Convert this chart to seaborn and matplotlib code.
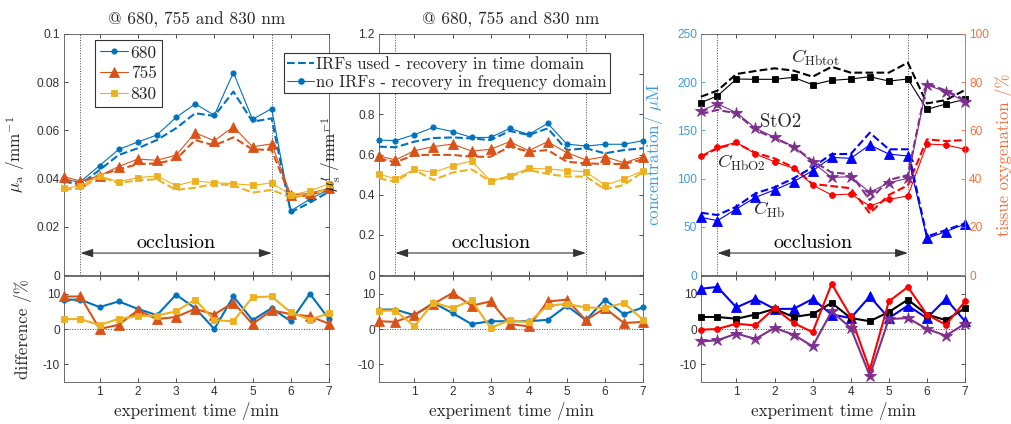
import matplotlib
matplotlib.use("Agg")
import matplotlib.pyplot as plt
import seaborn as sns
from matplotlib.lines import Line2D

# ---------------- data ----------------
t = [0.07, 0.5, 1.0, 1.5, 2.0, 2.5, 3.0, 3.5, 4.0, 4.5, 5.0, 5.5, 6.0, 6.5, 7.0]
xticks = [1, 2, 3, 4, 5, 6, 7]
occl_start, occl_end = 0.5, 5.5

wavelengths = ["680", "755", "830"]

# absorption (frequency domain = solid, time domain = dashed)
mua_680_fd = [0.0394, 0.0387, 0.0454, 0.0521, 0.0552, 0.0581, 0.0654, 0.0710, 0.0663, 0.0840, 0.0646, 0.0690, 0.0266, 0.0315, 0.0355]
mua_680_td = [0.0387, 0.0376, 0.0436, 0.0498, 0.0526, 0.0560, 0.0609, 0.0671, 0.0660, 0.0761, 0.0636, 0.0650, 0.0260, 0.0300, 0.0346]
mua_755_fd = [0.0408, 0.0390, 0.0412, 0.0450, 0.0481, 0.0476, 0.0497, 0.0590, 0.0557, 0.0615, 0.0532, 0.0544, 0.0332, 0.0339, 0.0360]
mua_755_td = [0.0397, 0.0383, 0.0415, 0.0438, 0.0460, 0.0463, 0.0480, 0.0560, 0.0538, 0.0571, 0.0521, 0.0519, 0.0321, 0.0332, 0.0355]
mua_830_fd = [0.0360, 0.0369, 0.0411, 0.0387, 0.0404, 0.0411, 0.0371, 0.0390, 0.0383, 0.0379, 0.0372, 0.0382, 0.0332, 0.0349, 0.0378]
mua_830_td = [0.0355, 0.0358, 0.0410, 0.0380, 0.0394, 0.0397, 0.0353, 0.0362, 0.0378, 0.0372, 0.0342, 0.0353, 0.0322, 0.0332, 0.0360]

# reduced scattering
mus_680_fd = [0.672, 0.669, 0.699, 0.735, 0.714, 0.685, 0.685, 0.730, 0.700, 0.755, 0.652, 0.642, 0.651, 0.651, 0.669]
mus_680_td = [0.639, 0.636, 0.664, 0.682, 0.685, 0.680, 0.672, 0.717, 0.697, 0.730, 0.622, 0.631, 0.606, 0.622, 0.631]
mus_755_fd = [0.593, 0.573, 0.619, 0.639, 0.652, 0.617, 0.626, 0.664, 0.619, 0.664, 0.609, 0.573, 0.589, 0.559, 0.589]
mus_755_td = [0.581, 0.561, 0.598, 0.598, 0.598, 0.589, 0.589, 0.639, 0.614, 0.622, 0.564, 0.556, 0.553, 0.553, 0.576]
mus_830_fd = [0.503, 0.478, 0.526, 0.511, 0.544, 0.568, 0.468, 0.495, 0.531, 0.528, 0.520, 0.514, 0.448, 0.478, 0.520]
mus_830_td = [0.481, 0.465, 0.523, 0.473, 0.510, 0.526, 0.465, 0.490, 0.523, 0.503, 0.490, 0.490, 0.427, 0.448, 0.514]

# haemoglobin concentrations (uM) and tissue oxygenation (%)
hbtot_fd = [178.8, 185.7, 203.3, 203.0, 203.0, 205.0, 197.4, 201.9, 203.3, 205.7, 201.2, 203.3, 171.8, 177.4, 182.2]
hbtot_td = [185.0, 191.2, 208.5, 211.6, 214.4, 212.0, 205.7, 216.0, 209.9, 209.9, 209.9, 220.3, 178.0, 181.5, 191.9]
hb_fd = [59.8, 56.4, 68.5, 80.6, 88.2, 96.8, 108.2, 122.0, 121.0, 134.9, 125.5, 123.4, 38.0, 45.0, 52.9]
hb_td = [64.6, 62.2, 70.9, 84.7, 91.0, 100.3, 111.7, 125.5, 125.5, 147.6, 130.4, 130.4, 39.8, 46.7, 53.6]
hbo2_fd = [123.4, 132.5, 137.6, 125.5, 117.5, 110.7, 93.4, 83.0, 84.0, 71.6, 78.5, 82.0, 135.9, 134.9, 130.4]
hbo2_td = [122.5, 131.4, 136.6, 126.8, 121.0, 111.7, 94.4, 92.3, 90.0, 64.0, 83.0, 93.0, 140.7, 139.0, 140.0]
sto2_fd = [68.2, 71.0, 67.4, 60.9, 57.1, 53.3, 46.7, 40.5, 40.8, 34.3, 38.3, 40.1, 78.8, 76.1, 71.9]
sto2_td = [66.8, 68.5, 67.1, 60.2, 56.7, 53.3, 47.4, 42.5, 41.9, 31.1, 39.4, 41.5, 79.5, 76.5, 72.6]

# differences (%)
dmua_680 = [8.3, 8.3, 6.2, 7.8, 5.7, 3.9, 9.7, 5.9, 0.0, 9.2, 2.5, 5.9, 2.2, 10.0, 2.8]
dmua_755 = [9.2, 9.2, 0.0, 1.2, 5.3, 2.8, 3.4, 5.7, 4.1, 7.5, 1.4, 5.3, 4.2, 3.6, 1.5]
dmua_830 = [2.8, 2.8, 1.1, 2.9, 3.6, 3.8, 5.0, 8.3, 2.5, 2.2, 9.0, 9.2, 4.7, 2.6, 4.5]

dmus_680 = [5.5, 5.5, 3.9, 7.4, 4.5, 1.4, 2.2, 2.2, 2.2, 2.6, 6.6, 2.5, 8.3, 4.2, 6.1]
dmus_755 = [2.2, 2.0, 4.1, 7.1, 10.2, 6.6, 7.8, 1.4, 0.75, 7.8, 8.3, 2.5, 5.9, 1.7, 2.0]
dmus_830 = [5.2, 5.2, 0.75, 7.5, 5.9, 8.1, 0.3, 2.5, 1.9, 6.6, 7.1, 6.1, 5.9, 7.4, 2.6]

dhb = [11.4, 11.9, 6.1, 8.5, 5.7, 5.7, 8.5, 4.1, 3.1, 9.2, 3.1, 6.6, 3.1, 8.5, 2.2]
dhbtot = [3.4, 3.4, 2.9, 4.1, 5.7, 3.4, 4.2, 7.4, 3.1, 2.2, 4.8, 8.3, 4.1, 2.5, 5.9]
dhbo2 = [-0.2, 0.0, 1.5, 1.0, 5.9, 1.7, -0.9, 12.8, 3.6, -11.5, 7.8, 11.9, 4.1, 1.2, 7.8]
dsto2 = [-3.5, -3.2, -1.3, -2.8, 0.3, -1.6, -4.9, 5.0, 0.3, -13.2, 2.8, 3.1, 0.0, -1.9, 1.5]

# ---------------- style ----------------
sns.set_style("ticks")
plt.rcParams.update({
    "font.family": ["Liberation Sans", "DejaVu Sans"],
    "mathtext.fontset": "cm",
    "axes.unicode_minus": False,
})
SERIF = ["cmr10", "DejaVu Serif"]
TICKC = "#333333"
SPINEC = "#555555"
C680, C755, C830 = "#0072BD", "#D95319", "#EDB120"
CBLUE_AX, CORANGE_AX = "#3D9BE0", "#F07040"
CHB, CHBO2, CHBT, CSTO = "#0000FF", "#FF0000", "#000000", "#7E2F8E"
TLS = 8.6  # tick label size
LFS = 12.3  # label font size

W, H = 1012, 424
fig = plt.figure(figsize=(W / 100, H / 100), dpi=100)


def rect(x0, x1, y0, y1):
    return [x0 / W, 1 - y1 / H, (x1 - x0) / W, (y1 - y0) / H]


lefts = [(64, 329), (379, 643), (701, 965)]
top_axes = [fig.add_axes(rect(a, b, 34, 275)) for a, b in lefts]
bot_axes = [fig.add_axes(rect(a, b, 276, 382)) for a, b in lefts]


def style_axes(ax, right=True):
    ax.tick_params(direction="in", length=3, width=0.6, colors=TICKC,
                   labelsize=TLS, top=True, right=right, pad=3)
    for s in ax.spines.values():
        s.set_color(SPINEC)
        s.set_linewidth(0.6)
    ax.set_xlim(t[0], t[-1])
    ax.set_xticks(xticks)


def line(ax, y, color, marker=None, ms=4, ls="-", lw=0.8, label=None):
    kw = dict(x=t, y=y, ax=ax, color=color, linestyle=ls, linewidth=lw,
              legend=False, clip_on=False, zorder=3)
    if marker:
        kw.update(marker=marker, markersize=ms, markeredgecolor=color,
                  markerfacecolor=color, markeredgewidth=0.6)
    if label:
        kw["label"] = label
    sns.lineplot(**kw)


mk = {"680": ("o", 3.8), "755": ("^", 7), "830": ("s", 5)}
cols = {"680": C680, "755": C755, "830": C830}

# ---- top left: mu_a ----
ax = top_axes[0]
for wl, fd, td in zip(wavelengths, [mua_680_fd, mua_755_fd, mua_830_fd],
                      [mua_680_td, mua_755_td, mua_830_td]):
    line(ax, td, cols[wl], ls="--", lw=1.5)
    line(ax, fd, cols[wl], marker=mk[wl][0], ms=mk[wl][1], lw=0.8, label=wl)
ax.set_ylim(0, 0.1)
ax.set_yticks([0, 0.02, 0.04, 0.06, 0.08, 0.1])
ax.set_yticklabels(["0", "0.02", "0.04", "0.06", "0.08", "0.1"])
ax.set_ylabel(r"$\mu_\mathrm{a}$ /mm$^{-1}$", fontsize=LFS, family=SERIF)
h, l = ax.get_legend_handles_labels()
leg1 = ax.legend(h, l, loc="upper left", bbox_to_anchor=(95 / W, 1 - 40 / H),
                 bbox_transform=fig.transFigure, prop={"family": SERIF, "size": 12.5},
                 frameon=True, fancybox=False, framealpha=1, edgecolor=TICKC,
                 borderpad=0.3, labelspacing=0.3, handlelength=1.6,
                 handletextpad=0.15, borderaxespad=0)
leg1.get_frame().set_linewidth(0.8)
arrow_y = [0.0091, 0.1095, 22.8]
text_y = [0.0112, 0.134, 28.0]

# ---- top middle: mu_s' ----
ax = top_axes[1]
for wl, fd, td in zip(wavelengths, [mus_680_fd, mus_755_fd, mus_830_fd],
                      [mus_680_td, mus_755_td, mus_830_td]):
    line(ax, td, cols[wl], ls="--", lw=1.5)
    line(ax, fd, cols[wl], marker=mk[wl][0], ms=mk[wl][1], lw=0.8)
ax.set_ylim(0, 1.2)
ax.set_yticks([0, 0.2, 0.4, 0.6, 0.8, 1.0, 1.2])
ax.set_yticklabels(["0", "0.2", "0.4", "0.6", "0.8", "", "1.2"])
ax.set_ylabel(r"$\mu_\mathrm{s}'$ /mm$^{-1}$", fontsize=LFS, family=SERIF)
proxies = [Line2D([], [], color=C680, ls="--", lw=1.5),
           Line2D([], [], color=C680, ls="-", lw=0.8, marker="o", ms=3.8)]
leg2 = ax.legend(proxies, ["IRFs used - recovery in time domain",
                           "no IRFs - recovery in frequency domain"],
                 loc="upper left", bbox_to_anchor=(284 / W, 1 - 53 / H),
                 bbox_transform=fig.transFigure, prop={"family": SERIF, "size": 12},
                 frameon=True, fancybox=False, framealpha=1, edgecolor=TICKC,
                 borderpad=0.2, labelspacing=0.1, handlelength=1.6,
                 handletextpad=0.15, borderaxespad=0)
leg2.get_frame().set_linewidth(0.8)
leg2.set_zorder(10)

# ---- top right: concentrations ----
ax = top_axes[2]
axr = ax.twinx()
line(ax, hbtot_td, CHBT, ls="--", lw=1.5)
line(ax, hbtot_fd, CHBT, marker="s", ms=5, lw=0.8)
line(ax, hbo2_td, CHBO2, ls="--", lw=1.5)
line(ax, hbo2_fd, CHBO2, marker="o", ms=4.2, lw=0.8)
line(ax, hb_td, CHB, ls="--", lw=1.5)
line(ax, hb_fd, CHB, marker="^", ms=7, lw=0.8)
line(axr, sto2_td, CSTO, ls="--", lw=1.5)
line(axr, sto2_fd, CSTO, marker="*", ms=9, lw=0.8)
ax.set_ylim(0, 250)
ax.set_yticks([0, 50, 100, 150, 200, 250])
axr.set_ylim(0, 100)
axr.set_yticks([0, 20, 40, 60, 80, 100])

# ---- style top axes ----
for i, ax in enumerate(top_axes):
    style_axes(ax, right=(i != 2))
    ax.tick_params(labelbottom=False)
    for xv in (occl_start, occl_end):
        ax.axvline(xv, ls=":", color="#444444", lw=0.7, zorder=1)
    ax.annotate("", xy=(occl_end, arrow_y[i]), xytext=(occl_start, arrow_y[i]),
                arrowprops=dict(arrowstyle="<|-|>,head_length=0.75,head_width=0.25",
                                color=TICKC, lw=0.8, shrinkA=0, shrinkB=0,
                                mutation_scale=10))
    ax.text((occl_start + occl_end) / 2, text_y[i], "occlusion", ha="center",
            va="baseline", fontsize=14.5, family=SERIF, color="black")
for i in (0, 1):
    top_axes[i].set_title("@ 680, 755 and 830 nm", fontsize=12.5, family=SERIF, pad=7)

ax = top_axes[2]
ax.tick_params(axis="y", colors=CBLUE_AX, right=False)
ax.spines["left"].set_color(CBLUE_AX)
ax.spines["right"].set_color(CORANGE_AX)
axr.tick_params(direction="in", length=3, width=0.6, colors=CORANGE_AX,
                labelsize=TLS, pad=3)
for s in axr.spines.values():
    s.set_visible(False)
axr.spines["right"].set_visible(True)
axr.spines["right"].set_color(CORANGE_AX)
axr.spines["right"].set_linewidth(0.6)
ax.set_ylabel(r"concentration/ $\mu$M", fontsize=LFS, family=SERIF, color=CBLUE_AX)
axr.set_ylabel("tissue oxygenation /%", fontsize=12, family=SERIF, color=CORANGE_AX)
ax.text(3.08, 220, r"$C_\mathrm{Hbtot}$", ha="center", va="baseline", fontsize=13.5)
ax.text(2.15, 153.8, "StO2", ha="center", va="baseline", fontsize=13.5, family=SERIF)
ax.text(1.13, 110.7, r"$C_\mathrm{HbO2}$", ha="center", va="baseline", fontsize=13.5)
ax.text(1.85, 62.2, r"$C_\mathrm{Hb}$", ha="center", va="baseline", fontsize=13.5)

# ---- bottom axes ----
ax = bot_axes[0]
line(ax, dmua_680, C680, marker="o", ms=3.8, lw=1.5)
line(ax, dmua_755, C755, marker="^", ms=7, lw=1.5)
line(ax, dmua_830, C830, marker="s", ms=5, lw=1.5)
ax = bot_axes[1]
line(ax, dmus_680, C680, marker="o", ms=3.8, lw=1.5)
line(ax, dmus_755, C755, marker="^", ms=7, lw=1.5)
line(ax, dmus_830, C830, marker="s", ms=5, lw=1.5)
ax = bot_axes[2]
line(ax, dhb, CHB, marker="^", ms=7, lw=1.5)
line(ax, dhbtot, CHBT, marker="s", ms=5, lw=1.5)
line(ax, dhbo2, CHBO2, marker="o", ms=4.2, lw=1.5)
line(ax, dsto2, CSTO, marker="*", ms=9, lw=1.5)

for ax in bot_axes:
    style_axes(ax)
    ax.set_ylim(-15, 15)
    ax.set_yticks([-10, 0, 10])
    ax.axhline(0, ls=":", color="#444444", lw=0.7, zorder=1)
    ax.set_xlabel("experiment time /min", fontsize=LFS, family=SERIF, labelpad=3)
bot_axes[0].set_ylabel("difference /%", fontsize=LFS, family=SERIF)

# label positions
top_axes[0].yaxis.set_label_coords(-0.14, 0.5)
bot_axes[0].yaxis.set_label_coords(-0.12, 0.5)
top_axes[1].yaxis.set_label_coords(-0.136, 0.5)
top_axes[2].yaxis.set_label_coords(-0.136, 0.5)
axr.yaxis.set_label_coords(1.112, 0.5)

fig.savefig("out.png", dpi=100)
